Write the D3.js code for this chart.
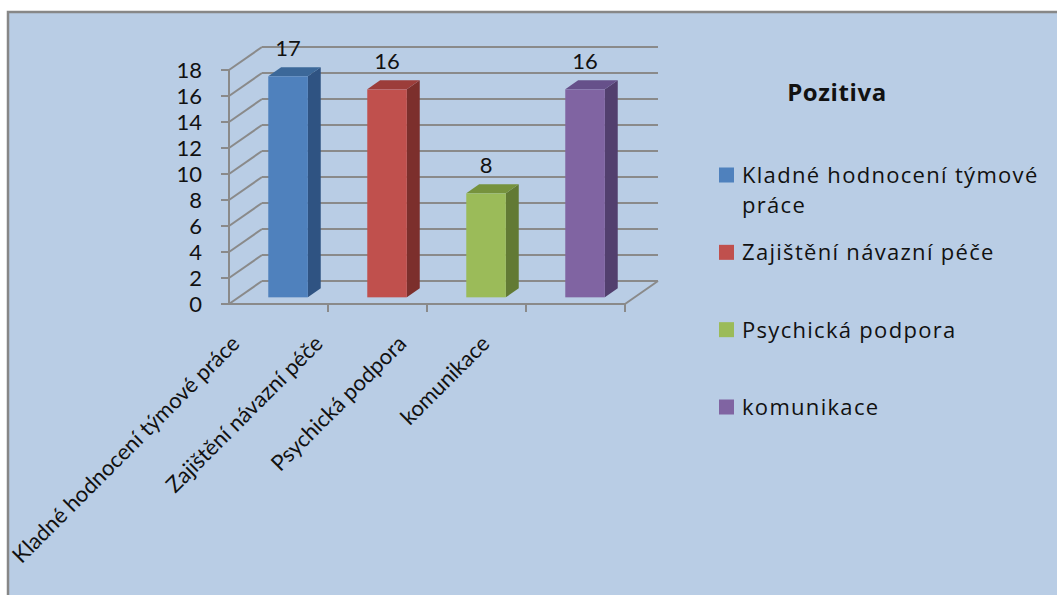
<!DOCTYPE html>
<html>
<head>
<meta charset="utf-8">
<script src="https://cdn.jsdelivr.net/npm/d3@7"></script>
<style>
  body { margin: 0; background: #fff; }
  svg text { font-family: Lato, "Open Sans", sans-serif; fill: #111; }
  svg .legend text { font-family: "Open Sans", Lato, sans-serif; }
</style>
</head>
<body>
<div id="chart"></div>
<script>
  // chart data
  var categories = ["Kladné hodnocení týmové práce", "Zajištění návazní péče", "Psychická podpora", "komunikace"];
  var values = [17, 16, 8, 16];
  var yTicks = [0, 2, 4, 6, 8, 10, 12, 14, 16, 18];
  var legendTitle = "Pozitiva";
  var legendLines = [["Kladné hodnocení týmové", "práce"], ["Zajištění návazní péče"], ["Psychická podpora"], ["komunikace"]];

  // front / side / top shades for each bar
  var colors = [
    {front: "#4f81bd", side: "#2f5382", top: "#3c6899"},
    {front: "#c0504d", side: "#7c2f2c", top: "#9c3d3a"},
    {front: "#9bbb59", side: "#627a34", top: "#76923d"},
    {front: "#8064a2", side: "#523f6e", top: "#66508a"}
  ];

  var width = 1057, height = 595;

  var svg = d3.select("#chart").append("svg")
      .attr("width", width)
      .attr("height", height);

  // background box
  svg.append("rect")
      .attr("x", 8).attr("y", 12)
      .attr("width", width + 10).attr("height", height + 10)
      .attr("fill", "#b9cde5")
      .attr("stroke", "#878787")
      .attr("stroke-width", 2.5);

  // scales
  var x = d3.scaleBand().domain(categories).range([229, 625]);
  var y = d3.scaleLinear().domain([0, 18]).range([304, 70]);

  // 3d depth of the plot and of each bar (fractions of full depth)
  var depthX = 33, depthY = -23;
  var f0 = 0.29, f1 = 0.68;
  var barW = x.bandwidth() / 2.5;

  var grid = "#8a8a8a";
  var g = svg.append("g");

  // back wall gridlines + side wall diagonals
  yTicks.forEach(function(t) {
    g.append("line")
      .attr("x1", x.range()[0] + depthX).attr("x2", x.range()[1] + depthX)
      .attr("y1", y(t) + depthY).attr("y2", y(t) + depthY)
      .attr("stroke", grid).attr("stroke-width", 2);
    g.append("line")
      .attr("x1", x.range()[0]).attr("x2", x.range()[0] + depthX)
      .attr("y1", y(t)).attr("y2", y(t) + depthY)
      .attr("stroke", grid).attr("stroke-width", 2);
    // y tick marks
    g.append("line")
      .attr("x1", x.range()[0] - 8).attr("x2", x.range()[0])
      .attr("y1", y(t)).attr("y2", y(t))
      .attr("stroke", grid).attr("stroke-width", 2);
    g.append("text")
      .attr("x", x.range()[0] - 27).attr("y", y(t))
      .attr("dy", "0.36em")
      .attr("text-anchor", "end")
      .attr("font-size", 22)
      .text(t);
  });

  // floor front edge and right edge
  g.append("line")
    .attr("x1", x.range()[0]).attr("x2", x.range()[1])
    .attr("y1", y(0)).attr("y2", y(0))
    .attr("stroke", grid).attr("stroke-width", 2);
  g.append("line")
    .attr("x1", x.range()[1]).attr("x2", x.range()[1] + depthX)
    .attr("y1", y(0)).attr("y2", y(0) + depthY)
    .attr("stroke", grid).attr("stroke-width", 2);
  // y axis line
  g.append("line")
    .attr("x1", x.range()[0]).attr("x2", x.range()[0])
    .attr("y1", y(0)).attr("y2", y(18))
    .attr("stroke", grid).attr("stroke-width", 2);
  // category ticks
  categories.forEach(function(c) {
    g.append("line")
      .attr("x1", x(c) + x.bandwidth()).attr("x2", x(c) + x.bandwidth())
      .attr("y1", y(0)).attr("y2", y(0) + 8)
      .attr("stroke", grid).attr("stroke-width", 2);
  });

  // bars
  var bars = g.selectAll(".bar")
    .data(values)
    .enter().append("g")
    .attr("class", "bar");

  bars.each(function(v, i) {
    var b = d3.select(this);
    var cx = x(categories[i]) + x.bandwidth() / 2;
    var x0 = cx - barW / 2 + f0 * depthX, x1 = x0 + barW;
    var y0 = y(0) + f0 * depthY, yt = y(v) + f0 * depthY;
    var ddx = (f1 - f0) * depthX, ddy = (f1 - f0) * depthY;
    // side
    b.append("path")
      .attr("d", "M" + x1 + "," + y0 + "L" + (x1 + ddx) + "," + (y0 + ddy) +
                 "L" + (x1 + ddx) + "," + (yt + ddy) + "L" + x1 + "," + yt + "Z")
      .attr("fill", colors[i].side);
    // top
    b.append("path")
      .attr("d", "M" + x0 + "," + yt + "L" + x1 + "," + yt +
                 "L" + (x1 + ddx) + "," + (yt + ddy) + "L" + (x0 + ddx) + "," + (yt + ddy) + "Z")
      .attr("fill", colors[i].top);
    // front
    b.append("rect")
      .attr("x", x0).attr("y", yt)
      .attr("width", barW).attr("height", y0 - yt)
      .attr("fill", colors[i].front);
    // value label
    b.append("text")
      .attr("x", cx + f0 * depthX)
      .attr("y", yt + ddy - 11)
      .attr("text-anchor", "middle")
      .attr("font-size", 22)
      .text(v);
  });

  // rotated category labels
  var lx = d3.scalePoint().domain(categories).range([241, 491]);
  g.selectAll(".cat")
    .data(categories)
    .enter().append("text")
    .attr("class", "cat")
    .attr("text-anchor", "end")
    .attr("font-size", 22)
    .attr("transform", function(d) { return "translate(" + lx(d) + ",345) rotate(-45)"; })
    .text(function(d) { return d; });

  // legend
  var legend = svg.append("g").attr("class", "legend");
  legend.append("text")
    .attr("x", 837).attr("y", 92)
    .attr("dy", "0.36em")
    .attr("text-anchor", "middle")
    .attr("font-size", 24)
    .attr("font-weight", "bold")
    .attr("letter-spacing", 0.6)
    .text(legendTitle);

  var ly = d3.scalePoint().domain(d3.range(categories.length)).range([175, 407]);
  legendLines.forEach(function(lines, i) {
    legend.append("rect")
      .attr("x", 719).attr("y", ly(i) - 7.5)
      .attr("width", 15).attr("height", 15)
      .attr("fill", colors[i].front);
    lines.forEach(function(line, j) {
      legend.append("text")
        .attr("x", 742).attr("y", ly(i) + j * 30)
        .attr("dy", "0.36em")
        .attr("font-size", 22)
        .attr("letter-spacing", 1.3)
        .text(line);
    });
  });
</script>
</body>
</html>
